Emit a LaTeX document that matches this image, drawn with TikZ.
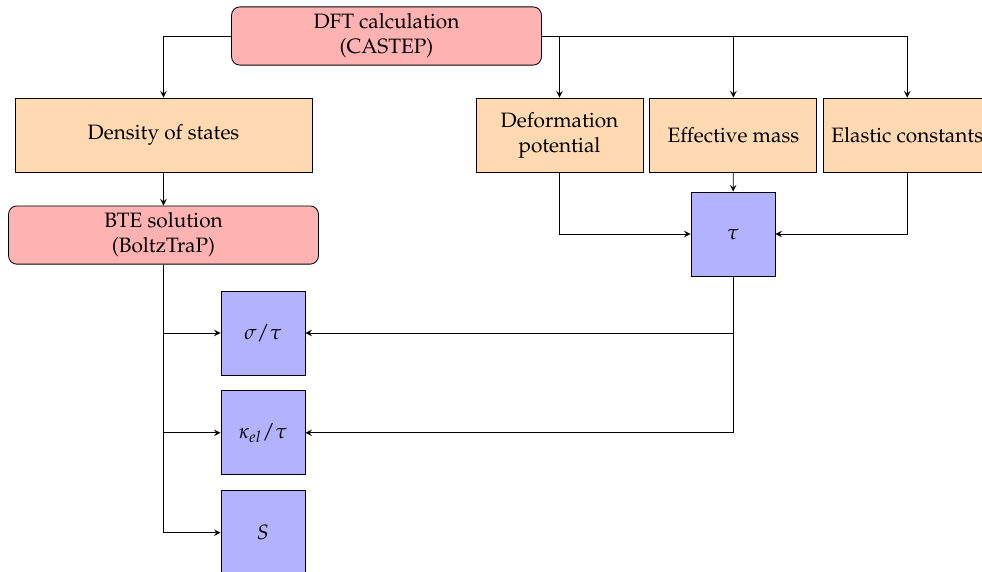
\documentclass[tikz,border=0pt]{standalone}
\usepackage[T1]{fontenc}
\usepackage{mathpazo}
\usepackage{tikz}
\usetikzlibrary{arrows.meta, positioning}

\begin{document}
\begin{tikzpicture}[
    x=0.4808pt, y=-0.4808pt, >=stealth,
    calcbox/.style={rectangle, draw, fill=red!30, rounded corners=4pt, align=center, minimum width=149pt, minimum height=28pt},
    propbox/.style={rectangle, draw, fill=orange!30, align=center, minimum width=80.3pt, minimum height=35.6pt},
    resbox/.style={rectangle, draw, fill=blue!30, minimum width=40.4pt, minimum height=40.4pt},
    line/.style={draw, ->, >=stealth}
  ]
    \useasboundingbox (0,0) rectangle (982,572);
    \node (dft) [calcbox] at (386.5,36) {DFT calculation\\(CASTEP)};
    \node (dos) [propbox, minimum width=142.8pt] at (163.5,135) {Density of states};
    \node (bte) [calcbox, below=15.9pt of dos] {BTE solution\\(BoltzTraP)};
    \node (def) [propbox] at (559.5,135) {Deformation\\potential};
    \node (eff) [propbox, right=2.9pt of def] {Effective mass};
    \node (ela) [propbox, right=2.9pt of eff] {Elastic constants};
    \node (tau) [resbox] at (733,234) {$\tau$};
    \node (sig) [resbox] at (263,333) {$\sigma/\tau$};
    \node (kap) [resbox, below=7.2pt of sig] {$\kappa_{el}/\tau$};
    \node (see) [resbox, below=7.2pt of kap] {$S$};

    \draw[line] (dft.west) -| (dos.north);
    \draw[line] (dft.east) -| (def.north);
    \draw[line] (dft.east) -| (eff.north);
    \draw[line] (dft.east) -| (ela.north);
    \draw[line] (dos) -- (bte);
    \draw[line] (eff) -- (tau);
    \draw[line] (def.south) |- (tau.west);
    \draw[line] (ela.south) |- (tau.east);
    \draw[line] (tau.south) |- (sig.east);
    \draw[line] (tau.south) |- (kap.east);
    \draw[line] (bte.south) |- (sig.west);
    \draw[line] (bte.south) |- (kap.west);
    \draw[line] (bte.south) |- (see.west);
  \end{tikzpicture}
\end{document}
